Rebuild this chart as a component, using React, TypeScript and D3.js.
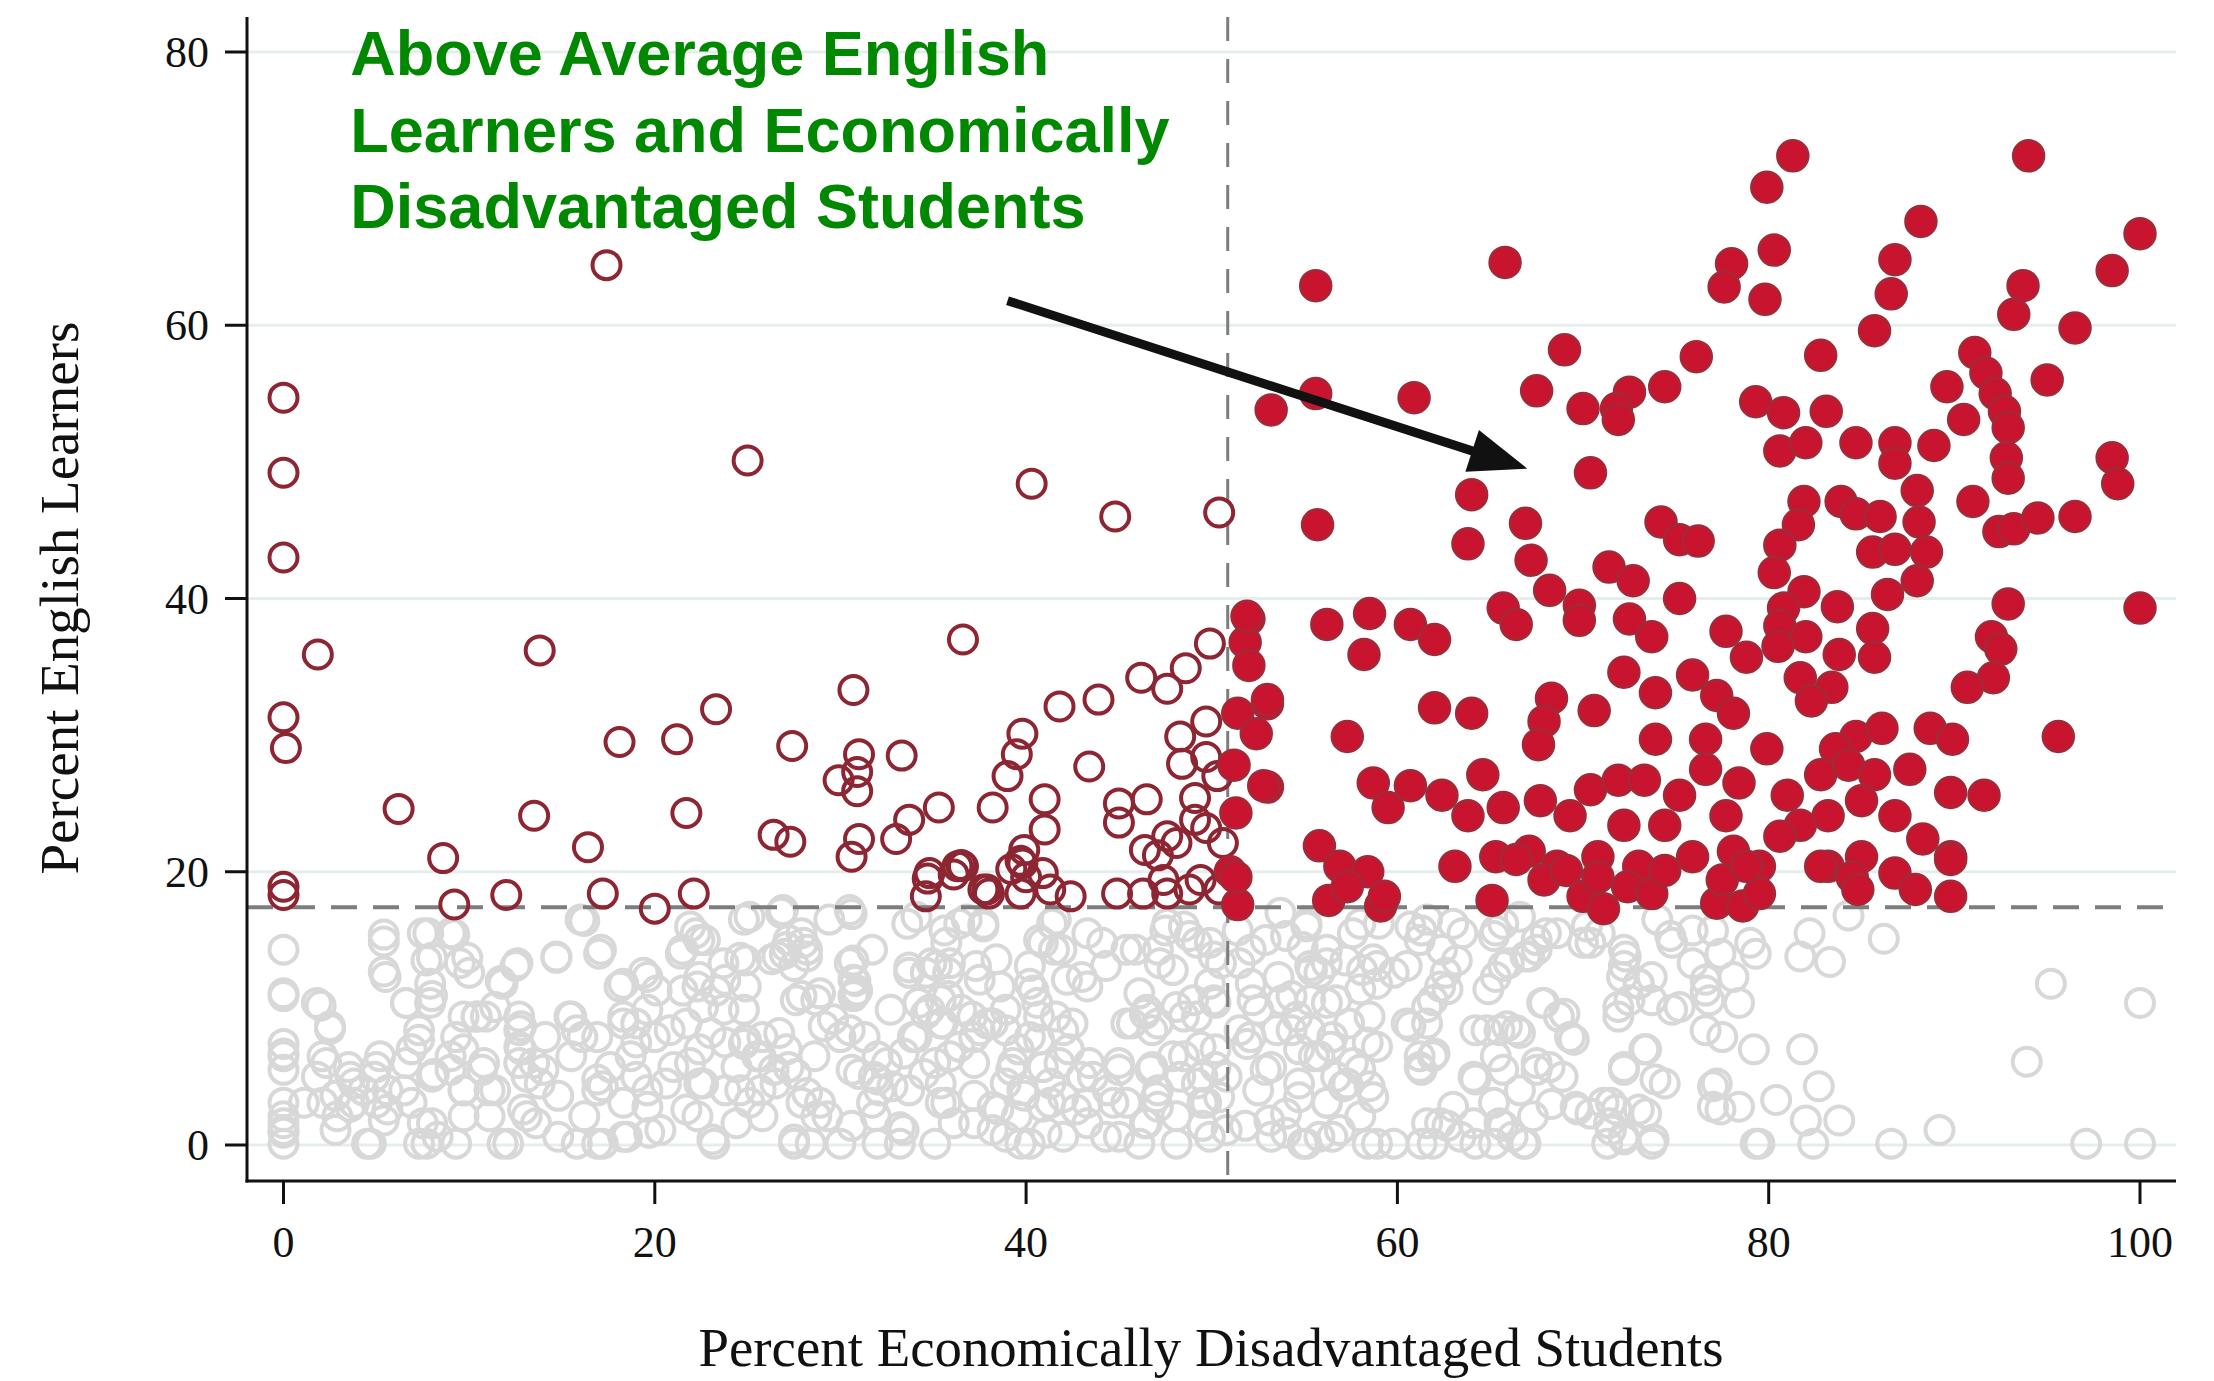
import React from 'react';
import * as d3 from 'd3';

const W = 2214;
const H = 1381;

const xTicks = [0, 20, 40, 60, 80, 100];
const yTicks = [0, 20, 40, 60, 80];
const xTitle = 'Percent Economically Disadvantaged Students';
const yTitle = 'Percent English Learners';
const avgDisadvantaged = 50.86;
const avgEnglishLearners = 17.4;
const annotationLines = ['Above Average English', 'Learners and Economically', 'Disadvantaged Students'];
const annotationAnchor: [number, number] = [3.6, 78.3];
const arrowFrom: [number, number] = [39.0, 61.8];
const arrowTo: [number, number] = [67.0, 49.5];

// below-average English learners (gray hollow)
const grayPoints: [number, number][] = [
  // 0-25
  [0, 14.3], [0, 10.9], [0, 7.4], [0, 6.5], [0, 5.5], [0, 3.1], [0, 2.1], [0, 1.1], [0, 0.1], [2.0, 10.2],
  [2.5, 8.5], [2.3, 6.0], [2.1, 3.1], [2.9, 2.1], [3.6, 5.0], [3.6, 2.8], [4.3, 4.0], [5.0, 5.7], [4.7, 0.1], [5.0, 3.1],
  [5.4, 1.8], [5.4, 14.9], [5.5, 12.3], [6.6, 10.4], [6.5, 4.0], [6.6, 6.0], [7.3, 7.7], [7.5, 15.5], [7.7, 13.5], [7.9, 11.8],
  [7.9, 10.4], [7.5, 1.6], [7.7, 0.1], [8.3, 0.6], [8.1, 5.2], [9.0, 15.5], [9.5, 13.3], [10.0, 12.6], [9.7, 9.4], [10.4, 9.4],
  [10.9, 9.4], [9.0, 5.5], [9.7, 4.0], [9.7, 2.1], [10.8, 6.0], [11.1, 4.0], [11.8, 0.1], [11.8, 11.8], [12.5, 13.1], [12.7, 9.4],
  [12.7, 8.4], [12.7, 7.2], [12.7, 6.0], [13.1, 5.0], [12.9, 2.6], [13.6, 1.6], [14.0, 5.5], [14.7, 13.8], [15.4, 9.4], [15.8, 8.4],
  [16.1, 7.9], [16.0, 16.5], [17.0, 14.0], [17.2, 4.3], [15.8, 0.1], [16.9, 4.8], [17.2, 0.1], [18.1, 11.6], [18.3, 9.4], [19.0, 8.9],
  [18.7, 6.5], [19.0, 5.0], [19.4, 12.6], [19.6, 2.8], [18.5, 0.6], [19.7, 0.9], [20.1, 11.3], [20.8, 8.4], [20.6, 4.5], [21.5, 14.3],
  [21.9, 16.0], [22.4, 15.0], [21.5, 11.3], [22.3, 11.6], [22.6, 10.1], [23.3, 11.3], [23.7, 9.9], [23.0, 8.2], [21.9, 6.0], [22.6, 4.5],
  [22.3, 2.1], [23.2, 0.1], [23.7, 13.3], [24.6, 4.0], [24.8, 7.4], [24.8, 16.5],
  [5.4, 15.4], [5.4, 12.7], [7.8, 15.5], [9.2, 15.4], [8.0, 13.7], [9.9, 13.7], [11.7, 12.0], [12.6, 13.3], [14.7, 13.7], [16.2, 16.4],
  [17.1, 14.3], [18.3, 11.8], [19.6, 12.3], [21.4, 14.0], [22.2, 15.5], [22.7, 15.0], [22.4, 12.3], [23.8, 12.1], [24.6, 13.7], [22.4, 7.0],
  [21.7, 8.9], [19.6, 9.9], [18.3, 8.9], [19.0, 7.5], [17.6, 5.7], [19.6, 4.0], [18.3, 3.1], [16.9, 4.0], [16.2, 2.1], [18.3, 0.6],
  [20.3, 1.1], [14.8, 0.6], [13.1, 2.1], [13.8, 4.5], [15.5, 6.5], [14.1, 7.9], [15.5, 9.4], [12.8, 8.7], [11.4, 10.1], [10.4, 9.4],
  [9.3, 7.9], [9.0, 6.5], [10.7, 5.5], [9.7, 4.0], [8.0, 5.0], [6.9, 7.0], [7.3, 8.4], [6.6, 10.4], [8.0, 10.9], [5.2, 6.5],
  [4.9, 5.0], [3.8, 4.5], [2.8, 3.6], [1.8, 10.4], [2.5, 8.7], [2.1, 6.5], [1.8, 5.0], [1.1, 3.1], [0, 11.1], [0, 6.7],
  [0, 1.6], [0, 0.9], [3.8, 3.1], [5.6, 2.6], [6.9, 3.1], [8.0, 1.6], [9.3, 0.1], [11.1, 2.1], [12.1, 0.1], [7.3, 0.1],
  [4.5, 0.1], [2.8, 1.1], [5.6, 4.0], [3.5, 5.7], [9.7, 7.0], [12.8, 7.0], [13.5, 6.0], [11.4, 4.0], [14.8, 3.6], [16.9, 0.1],
  [21.7, 2.6], [23.8, 4.0], [24.4, 5.7], [23.8, 7.5], [24.8, 9.9], [16.9, 7.9], [20.0, 7.9], [22.4, 4.5], [21.0, 5.7], [24.4, 1.6],
  [23.1, 0.4],
  // 25-51
  [25.1, 16.7], [26.9, 17.2], [29.4, 16.5], [30.5, 17.2], [24.9, 13.5], [24.9, 11.6], [26.6, 13.8], [27.1, 14.5], [27.5, 13.1], [28.0, 14.8],
  [28.2, 13.8], [30.7, 13.5], [30.7, 12.1], [30.9, 11.3], [30.7, 10.9], [27.6, 10.6], [28.7, 10.6], [29.1, 8.7], [30.5, 8.4], [30.0, 7.9],
  [24.9, 7.7], [25.7, 6.5], [26.7, 8.2], [27.1, 7.0], [26.4, 5.5], [27.6, 5.2], [25.7, 4.0], [25.8, 2.1], [28.2, 3.8], [28.7, 2.1],
  [28.9, 3.1], [27.5, 0.4], [28.4, 0.1], [30.0, 0.1], [31.0, 5.2], [31.8, 5.0], [32.1, 4.0], [32.8, 4.3], [31.9, 2.1], [33.2, 1.3],
  [33.2, 0.1], [32.5, 6.0], [33.6, 16.2], [33.7, 12.6], [33.9, 7.9], [34.5, 5.2], [34.6, 12.6], [34.8, 9.9], [35.2, 13.1], [35.4, 10.6],
  [35.5, 8.9], [35.7, 14.8], [35.9, 13.3], [35.9, 6.5], [35.7, 3.1], [36.1, 1.6], [36.4, 7.2], [36.4, 16.2], [37.1, 9.4], [37.3, 13.1],
  [37.5, 8.4], [37.7, 16.2], [37.9, 8.9], [38.2, 2.8], [38.6, 11.6], [38.2, 1.1], [38.9, 8.4], [39.3, 6.0], [39.5, 2.1], [39.7, 0.1],
  [39.8, 4.0], [40.2, 13.1], [40.4, 11.3], [40.7, 15.0], [40.7, 9.4], [40.7, 7.7], [40.9, 2.8], [41.1, 0.9], [41.5, 14.3], [41.6, 16.5],
  [41.8, 6.0], [42.0, 3.5], [42.2, 12.1], [42.5, 8.9], [42.7, 2.6], [43.3, 11.6], [43.4, 6.0], [43.6, 5.0], [44.1, 14.8], [44.3, 0.6],
  [44.3, 13.1], [44.7, 3.1], [45.0, 5.5], [45.4, 8.9], [45.9, 14.3], [46.5, 9.9], [46.8, 8.4], [46.7, 5.5], [47.0, 3.5], [46.5, 1.6],
  [46.1, 0.1], [47.2, 13.3], [47.6, 16.2], [47.9, 12.8], [47.9, 6.5], [48.3, 5.0], [48.1, 2.1], [48.5, 9.4], [48.8, 15.3], [49.0, 10.6],
  [49.4, 7.2], [49.5, 5.0], [49.7, 3.1], [49.9, 0.6], [50.1, 13.8], [50.1, 10.6], [50.2, 5.7], [50.4, 3.5], [49.9, 14.8],
  [26.8, 17.0], [27.2, 15.0], [27.9, 15.5], [27.0, 14.0], [26.3, 13.6], [28.2, 14.3], [30.6, 16.9], [30.5, 13.3], [30.8, 12.0], [30.8, 11.1],
  [29.6, 9.2], [28.9, 11.1], [27.9, 10.9], [34.1, 16.7], [33.7, 13.0], [34.9, 13.3], [35.8, 12.6], [35.6, 15.7], [36.8, 16.5], [37.7, 16.0],
  [38.4, 13.6], [37.5, 12.1], [35.8, 10.9], [34.2, 10.4], [34.6, 9.6], [36.5, 9.9], [38.9, 9.9], [40.2, 11.8], [40.9, 14.8], [41.4, 16.2],
  [41.9, 14.3], [43.0, 12.3], [43.3, 15.5], [45.4, 14.3], [46.1, 11.1], [47.1, 14.3], [47.5, 15.7], [48.5, 16.0], [49.2, 14.8], [50.5, 13.3],
  [49.9, 11.8], [48.1, 10.1], [46.4, 9.6], [45.7, 8.9], [47.1, 8.9], [49.2, 9.4], [50.2, 10.4], [40.6, 10.4], [41.6, 9.4], [42.0, 8.4],
  [40.2, 7.9], [39.6, 7.0], [42.3, 7.0], [38.2, 8.9], [37.2, 7.9], [35.4, 8.9], [34.1, 7.9], [33.4, 6.7], [35.1, 6.0], [37.2, 6.0],
  [39.2, 5.5], [40.9, 5.7], [43.0, 5.0], [45.0, 6.0], [46.8, 5.7], [48.5, 6.5], [50.2, 7.0], [49.2, 4.5], [47.1, 4.0], [45.4, 3.1],
  [43.3, 3.1], [41.3, 3.1], [39.9, 3.6], [38.5, 2.6], [37.2, 3.6], [35.4, 3.1], [33.7, 4.0], [32.0, 4.8], [31.7, 3.1], [30.6, 1.4],
  [32.0, 0.1], [33.4, 1.1], [35.1, 0.1], [37.2, 1.6], [38.9, 0.6], [40.2, 0.1], [42.0, 0.6], [43.3, 1.6], [45.0, 0.6], [46.4, 1.6],
  [48.1, 0.1], [49.5, 1.4], [47.1, 2.8], [49.5, 3.1], [44.4, 4.0], [41.3, 4.5], [38.9, 4.5], [35.4, 4.5], [28.6, 6.5], [27.2, 5.7],
  [25.8, 7.9], [25.5, 6.5], [26.5, 4.5], [27.9, 3.1], [29.3, 2.1], [27.5, 0.1], [25.1, 3.1], [31.3, 7.9], [32.0, 6.5], [30.6, 5.5],
  [32.7, 9.9], [31.7, 14.3],
  // 51-77
  [53.7, 17.0], [52.9, 15.0], [51.5, 13.3], [52.2, 10.6], [51.5, 8.4], [51.9, 7.4], [50.8, 5.0], [50.8, 1.1], [55.1, 16.0], [54.9, 14.5],
  [55.3, 13.1], [56.2, 13.3], [55.8, 12.6], [53.8, 10.6], [55.3, 10.6], [56.7, 10.6], [54.6, 9.4], [53.5, 8.4], [55.3, 8.4], [56.4, 7.2],
  [54.7, 7.0], [52.9, 5.5], [55.5, 6.5], [56.7, 5.0], [54.7, 3.5], [56.2, 3.1], [57.1, 4.3], [58.5, 4.3], [58.7, 3.5], [53.1, 1.8],
  [54.0, 0.9], [54.9, 0.1], [55.8, 0.6], [56.9, 1.1], [57.4, 8.9], [58.5, 9.4], [58.9, 7.2], [58.0, 5.5], [57.2, 13.5], [58.1, 12.8],
  [58.9, 13.1], [58.9, 11.8], [60.5, 13.1], [58.0, 16.2], [59.0, 16.2], [60.7, 16.0], [61.2, 15.0], [61.6, 16.5], [63.0, 16.2], [61.9, 10.6],
  [62.3, 11.6], [62.6, 12.6], [63.2, 13.5], [60.7, 8.7], [61.6, 8.9], [61.2, 6.5], [61.9, 6.5], [61.2, 5.7], [58.9, 0.1], [59.8, 0.1],
  [61.6, 1.6], [62.3, 1.6], [61.9, 0.1], [63.4, 0.6], [64.1, 1.6], [64.1, 5.0], [64.8, 8.4], [65.5, 8.4], [65.9, 8.7], [66.6, 8.2],
  [65.3, 6.5], [65.7, 5.5], [65.2, 3.1], [65.5, 1.6], [66.2, 0.6], [65.2, 0.1], [66.9, 0.1], [67.3, 2.1], [66.6, 4.0], [67.5, 6.0],
  [68.2, 5.7], [68.9, 5.0], [69.5, 7.7], [68.7, 9.4], [67.8, 10.4], [65.2, 15.3], [65.7, 16.2], [66.6, 16.7], [66.9, 13.8], [67.5, 14.3],
  [65.3, 12.3], [66.0, 13.3], [68.0, 15.5], [70.0, 14.8], [70.2, 16.0], [70.9, 15.5], [72.3, 13.8], [72.1, 12.3], [73.0, 11.8], [71.9, 9.4],
  [72.5, 10.6], [73.4, 7.0], [72.2, 5.5], [73.9, 4.8], [69.6, 2.8], [70.4, 2.3], [71.1, 3.1], [71.8, 2.6], [73.4, 2.3], [71.3, 0.1],
  [72.2, 0.6], [73.8, 0.4], [71.4, 1.6], [74.8, 9.9], [75.9, 13.3], [76.6, 11.3], [76.6, 8.4], [77.2, 4.5], [77.0, 2.8], [77.0, 15.7],
  [74.7, 15.3], [74.0, 16.5],
  [51.4, 15.7], [52.1, 14.3], [54.0, 15.3], [55.1, 16.2], [56.2, 14.3], [57.6, 15.5], [58.7, 13.6], [59.8, 12.6], [61.3, 15.7], [62.4, 14.3],
  [63.5, 15.5], [65.3, 15.7], [67.5, 15.0], [68.6, 15.5], [65.7, 13.1], [67.1, 13.8], [64.9, 11.4], [62.7, 11.4], [61.6, 10.1], [60.5, 8.9],
  [62.0, 6.7], [61.3, 5.5], [64.2, 4.8], [66.4, 8.4], [67.9, 10.4], [69.0, 9.6], [69.3, 7.9], [67.5, 5.5], [70.4, 14.8], [72.2, 14.3],
  [72.2, 13.1], [73.0, 11.8], [73.7, 12.3], [74.8, 14.8], [75.9, 15.7], [71.9, 10.1], [73.7, 10.6], [75.2, 10.1], [73.3, 7.0], [72.2, 5.7],
  [74.4, 4.5], [69.7, 2.6], [71.5, 3.1], [73.0, 2.6], [73.7, 0.1], [72.2, 0.4], [71.5, 1.1], [66.8, 0.1], [65.7, 1.4], [64.2, 0.1],
  [62.7, 1.4], [61.3, 0.1], [58.4, 0.1], [56.5, 0.6], [55.1, 0.1], [53.2, 0.6], [51.8, 1.4], [54.0, 2.3], [56.2, 3.1], [58.0, 2.1],
  [57.3, 4.5], [54.7, 4.5], [52.5, 4.0], [53.2, 5.7], [55.8, 6.5], [57.6, 6.0], [58.4, 7.5], [56.5, 7.9], [54.3, 8.4], [52.1, 7.9],
  [52.5, 9.9], [54.3, 10.9], [56.2, 10.4], [58.0, 11.4], [53.6, 12.3], [55.4, 12.8], [52.1, 11.8], [64.2, 8.4], [68.3, 3.0], [63.0, 2.8],
  // 77-100
  [77.4, 14.0], [76.8, 10.6], [78.1, 12.3], [78.4, 10.4], [79.0, 14.8], [79.3, 14.0], [77.5, 7.9], [79.2, 7.0], [77.0, 4.3], [77.4, 2.6],
  [78.4, 2.8], [80.4, 3.3], [79.3, 0.1], [79.5, 0.1], [81.7, 13.8], [82.2, 15.5], [83.3, 13.4], [81.8, 7.0], [82.7, 4.3], [82.0, 1.8],
  [82.4, 0.1], [83.8, 1.8], [84.3, 16.8], [86.2, 15.1], [86.6, 0.1], [89.2, 1.1], [95.2, 11.8], [93.9, 6.1], [100.0, 10.4], [97.1, 0.1],
  [100.0, 0.1], [76.6, 12.1],
];

// above-average English learners, below-average disadvantaged (maroon hollow)
const maroonPoints: [number, number][] = [
  [0, 54.7], [0, 49.2], [0, 43.0], [0, 31.3], [0.13, 29.05], [0, 18.9], [0, 18.3], [1.85, 35.9], [17.4, 64.4], [25.0, 50.1],
  [40.3, 48.4], [44.8, 46.0], [50.4, 46.3], [13.8, 36.2], [36.6, 37.0], [30.7, 33.3], [23.3, 31.9], [18.1, 29.5], [21.2, 29.7], [27.4, 29.2],
  [33.3, 28.5], [31.0, 28.6], [30.9, 27.3], [29.9, 26.7], [30.9, 25.9], [6.2, 24.6], [13.5, 24.1], [21.7, 24.3], [16.4, 21.8], [8.6, 21.0],
  [26.4, 22.7], [27.3, 22.2], [30.6, 21.1], [31.0, 22.4], [33.0, 22.4], [33.7, 23.8], [35.3, 24.7], [38.2, 24.7], [39.0, 27.0], [39.5, 28.6],
  [39.8, 30.1], [41.8, 32.1], [43.9, 32.6], [43.4, 27.7], [41.0, 25.3], [41.0, 23.1], [39.7, 20.8], [39.9, 21.6], [39.2, 20.2], [45.0, 23.6],
  [45.0, 25.0], [46.2, 34.2], [47.6, 33.4], [48.6, 34.9], [49.9, 36.7], [48.3, 29.9], [49.7, 31.0], [48.4, 27.9], [49.7, 28.4], [50.3, 27.0],
  [49.1, 25.4], [47.6, 22.6], [48.1, 22.1], [46.4, 21.6], [49.1, 23.8], [49.7, 23.2], [50.6, 22.1], [36.5, 20.5], [36.1, 19.8], [34.7, 19.5],
  [9.2, 17.6], [12.0, 18.3], [17.2, 18.4], [20.0, 17.3], [22.1, 18.4], [34.6, 18.2], [34.8, 19.9], [36.3, 20.4], [37.7, 18.7], [38.0, 18.4],
  [39.8, 20.6], [39.7, 18.4], [40.0, 19.6], [40.9, 19.9], [41.3, 18.7], [42.4, 18.2], [44.9, 18.4], [46.3, 18.4], [47.4, 19.4], [47.6, 18.4],
  [48.8, 18.7], [49.4, 19.4], [50.4, 18.7], [46.5, 25.3], [47.1, 21.2], [36.6, 20.4], [37.9, 18.7],
];

// above-average on both (filled red)
const redPoints: [number, number][] = [
  [81.3, 72.4], [79.9, 70.1], [94.0, 72.4], [88.2, 67.6], [100.0, 66.7], [80.3, 65.5], [78.0, 64.5], [77.6, 62.8], [79.8, 61.9], [65.8, 64.6],
  [55.6, 62.9], [86.8, 64.8], [86.6, 62.3], [85.7, 59.6], [93.7, 62.9], [93.2, 60.8], [98.5, 64.0], [96.5, 59.8], [82.8, 57.8], [91.1, 58.0],
  [91.7, 56.5], [92.2, 55.0], [92.7, 53.7], [92.9, 52.5], [95.0, 56.0], [69.0, 58.2], [76.1, 57.7], [74.4, 55.5], [72.5, 55.1], [71.8, 53.9],
  [71.9, 53.1], [70.0, 53.9], [67.5, 55.2], [60.9, 54.7], [55.6, 55.0], [53.2, 53.8], [79.3, 54.4], [80.8, 53.6], [83.1, 53.7], [89.6, 55.5],
  [90.5, 53.1], [84.7, 51.4], [86.8, 51.4], [88.9, 51.2], [80.6, 50.8], [82.0, 51.4], [86.8, 49.9], [92.8, 50.3], [92.9, 48.8], [98.5, 50.3],
  [98.8, 48.4], [70.4, 49.2], [64.0, 47.6], [55.7, 45.4], [63.8, 44.0], [66.9, 45.5], [88.0, 47.9], [91.0, 47.1], [81.9, 47.1], [83.9, 47.1],
  [84.7, 46.2], [86.0, 46.0], [88.1, 45.6], [92.4, 44.9], [93.2, 45.1], [94.5, 45.9], [96.5, 46.0], [81.6, 45.4], [80.6, 43.9], [85.6, 43.4],
  [86.8, 43.6], [88.5, 43.4], [74.2, 45.6], [75.2, 44.3], [76.2, 44.2], [67.2, 42.8], [68.2, 40.6], [71.4, 42.3], [72.7, 41.3], [80.3, 41.9],
  [88.0, 41.3], [86.4, 40.3], [81.9, 40.5], [80.8, 39.3], [83.7, 39.4], [92.9, 39.6], [100.0, 39.3], [75.2, 40.0], [65.7, 39.3], [66.4, 38.1],
  [69.8, 39.5], [69.8, 38.4], [72.5, 38.5], [73.7, 37.2], [77.7, 37.6], [80.6, 38.0], [82.0, 37.2], [85.6, 37.8], [85.7, 35.7], [92.0, 37.2],
  [92.5, 36.3], [92.1, 34.2], [90.7, 33.5], [52.0, 38.5], [56.2, 38.1], [58.5, 38.9], [60.7, 38.1], [62.0, 37.0], [58.2, 35.9], [51.8, 36.8],
  [52.0, 35.1], [53.0, 32.3], [51.4, 31.6], [52.4, 30.1], [51.2, 27.8], [53.0, 26.2], [51.3, 24.3], [51.0, 20.0], [57.3, 29.9], [62.0, 32.0],
  [64.0, 31.6], [68.3, 32.7], [67.9, 31.0], [67.6, 29.3], [70.6, 31.8], [72.2, 34.6], [73.9, 33.1], [75.9, 34.4], [77.2, 32.9], [78.1, 31.6],
  [76.6, 29.7], [73.9, 29.7], [78.8, 35.7], [80.5, 36.5], [81.7, 34.2], [83.4, 33.5], [83.8, 35.9], [82.3, 32.5], [79.9, 29.0], [84.7, 29.9],
  [86.1, 30.5], [88.7, 30.5], [89.9, 29.7], [83.6, 29.0], [95.6, 29.9], [58.7, 26.5], [60.7, 26.3], [62.4, 25.6], [64.6, 27.1], [65.7, 24.7],
  [59.5, 24.7], [63.8, 24.1], [67.7, 25.2], [70.4, 26.0], [71.9, 26.7], [73.3, 26.7], [75.2, 25.6], [76.6, 27.5], [78.4, 26.5], [69.3, 24.1],
  [72.2, 23.4], [74.4, 23.4], [77.7, 24.1], [81.0, 25.6], [82.8, 27.1], [84.3, 27.8], [85.7, 27.1], [87.6, 27.5], [89.8, 25.8], [91.6, 25.6],
  [85.0, 25.2], [83.2, 24.1], [86.8, 24.1], [81.7, 23.4], [88.3, 22.4], [89.8, 21.1], [85.0, 21.1], [83.2, 20.4], [55.8, 21.9], [56.9, 20.4],
  [58.4, 20.0], [63.1, 20.4], [65.3, 21.1], [67.1, 21.5], [68.6, 20.4], [70.8, 21.1], [73.0, 20.4], [75.9, 21.1], [78.1, 21.5], [79.5, 20.4],
  [80.6, 22.6], [51.4, 17.6], [56.3, 17.9], [57.3, 18.9], [59.1, 17.5], [59.3, 18.2], [65.1, 17.9], [66.4, 20.9], [67.9, 19.4], [69.1, 20.1],
  [70.0, 18.2], [71.1, 17.3], [70.8, 19.6], [72.4, 18.9], [73.7, 18.4], [74.4, 20.1], [77.2, 17.7], [77.5, 19.4], [78.6, 17.5], [79.5, 18.4],
  [78.8, 20.4], [82.8, 20.4], [84.5, 19.6], [84.8, 18.7], [86.8, 19.9], [87.9, 18.7], [89.8, 20.9], [89.8, 18.2], [51.9, 38.7], [53.0, 32.6],
  [52.8, 26.3], [51.3, 19.6],
];

export default function App() {
  const x = d3.scaleLinear().domain([0, 100]).range([283.5, 2140]);
  const y = d3.scaleLinear().domain([0, 80]).range([1145, 52]);
  const plotLeft = 247;
  const plotRight = 2176;
  const plotTop = 17;
  const plotBottom = 1181;

  const ax0 = x(arrowFrom[0]);
  const ay0 = y(arrowFrom[1]);
  const ax1 = x(arrowTo[0]);
  const ay1 = y(arrowTo[1]);
  const dx = ax1 - ax0;
  const dy = ay1 - ay0;
  const len = Math.hypot(dx, dy);
  const ux = dx / len;
  const uy = dy / len;
  const headLen = 58;
  const headHalf = 22;
  const bx = ax1 - ux * headLen;
  const by = ay1 - uy * headLen;
  const head = [
    [ax1, ay1],
    [bx - uy * headHalf, by + ux * headHalf],
    [bx + uy * headHalf, by - ux * headHalf],
  ];

  const serif = '"Liberation Serif", "Times New Roman", serif';
  const sans = '"Liberation Sans", Arial, sans-serif';

  return (
    <svg width={W} height={H} style={{ position: 'absolute', left: 0, top: 0, background: '#fff' }}>
      <rect x={0} y={0} width={W} height={H} fill="#fff" />
      {yTicks.map((t) => (
        <line key={'g' + t} x1={plotLeft} x2={plotRight} y1={y(t)} y2={y(t)} stroke="#e6eded" strokeWidth={3} />
      ))}
      {grayPoints.map((p, i) => (
        <circle key={'gp' + i} cx={x(p[0])} cy={y(p[1])} r={14} fill="none" stroke="#d8d8d8" strokeWidth={4} />
      ))}
      <line x1={x(avgDisadvantaged)} x2={x(avgDisadvantaged)} y1={plotTop} y2={plotBottom} stroke="#7d7d7d" strokeWidth={3} strokeDasharray="24 18" />
      <line x1={plotLeft} x2={plotRight - 6} y1={y(avgEnglishLearners)} y2={y(avgEnglishLearners)} stroke="#7d7d7d" strokeWidth={4} strokeDasharray="26 16" />
      {maroonPoints.map((p, i) => (
        <circle key={'mp' + i} cx={x(p[0])} cy={y(p[1])} r={14} fill="none" stroke="#8d2632" strokeWidth={4} />
      ))}
      {redPoints.map((p, i) => (
        <circle key={'rp' + i} cx={x(p[0])} cy={y(p[1])} r={15.5} fill="#c8142f" stroke="#a22a38" strokeWidth={2.5} />
      ))}
      <line x1={plotLeft} x2={plotLeft} y1={plotTop} y2={plotBottom + 1.5} stroke="#111" strokeWidth={3} />
      <line x1={plotLeft - 1.5} x2={plotRight} y1={plotBottom} y2={plotBottom} stroke="#111" strokeWidth={3} />
      {yTicks.map((t) => (
        <g key={'yt' + t}>
          <line x1={plotLeft - 22} x2={plotLeft} y1={y(t)} y2={y(t)} stroke="#111" strokeWidth={3} />
          <text x={209} y={y(t) + 15} textAnchor="end" fontFamily={serif} fontSize={44} fill="#111">{t}</text>
        </g>
      ))}
      {xTicks.map((t) => (
        <g key={'xt' + t}>
          <line x1={x(t)} x2={x(t)} y1={plotBottom} y2={plotBottom + 23} stroke="#111" strokeWidth={3} />
          <text x={x(t)} y={1257} textAnchor="middle" fontFamily={serif} fontSize={44} fill="#111">{t}</text>
        </g>
      ))}
      <text x={1211} y={1366} textAnchor="middle" fontFamily={serif} fontSize={54} fill="#111" textLength={1025} lengthAdjust="spacingAndGlyphs">{xTitle}</text>
      <text transform={`translate(78, 598) rotate(-90)`} x={0} y={0} textAnchor="middle" fontFamily={serif} fontSize={55} fill="#111" textLength={553} lengthAdjust="spacingAndGlyphs">{yTitle}</text>
      {annotationLines.map((s, i) => (
        <text key={'a' + i} x={x(annotationAnchor[0])} y={y(annotationAnchor[1]) + i * 76.5} fontFamily={sans} fontWeight="bold" fontSize={63} fill="#008800">{s}</text>
      ))}
      <line x1={ax0} y1={ay0} x2={bx + ux * 4} y2={by + uy * 4} stroke="#111" strokeWidth={9} />
      <polygon points={head.map((p) => p.join(',')).join(' ')} fill="#111" />
    </svg>
  );
}
